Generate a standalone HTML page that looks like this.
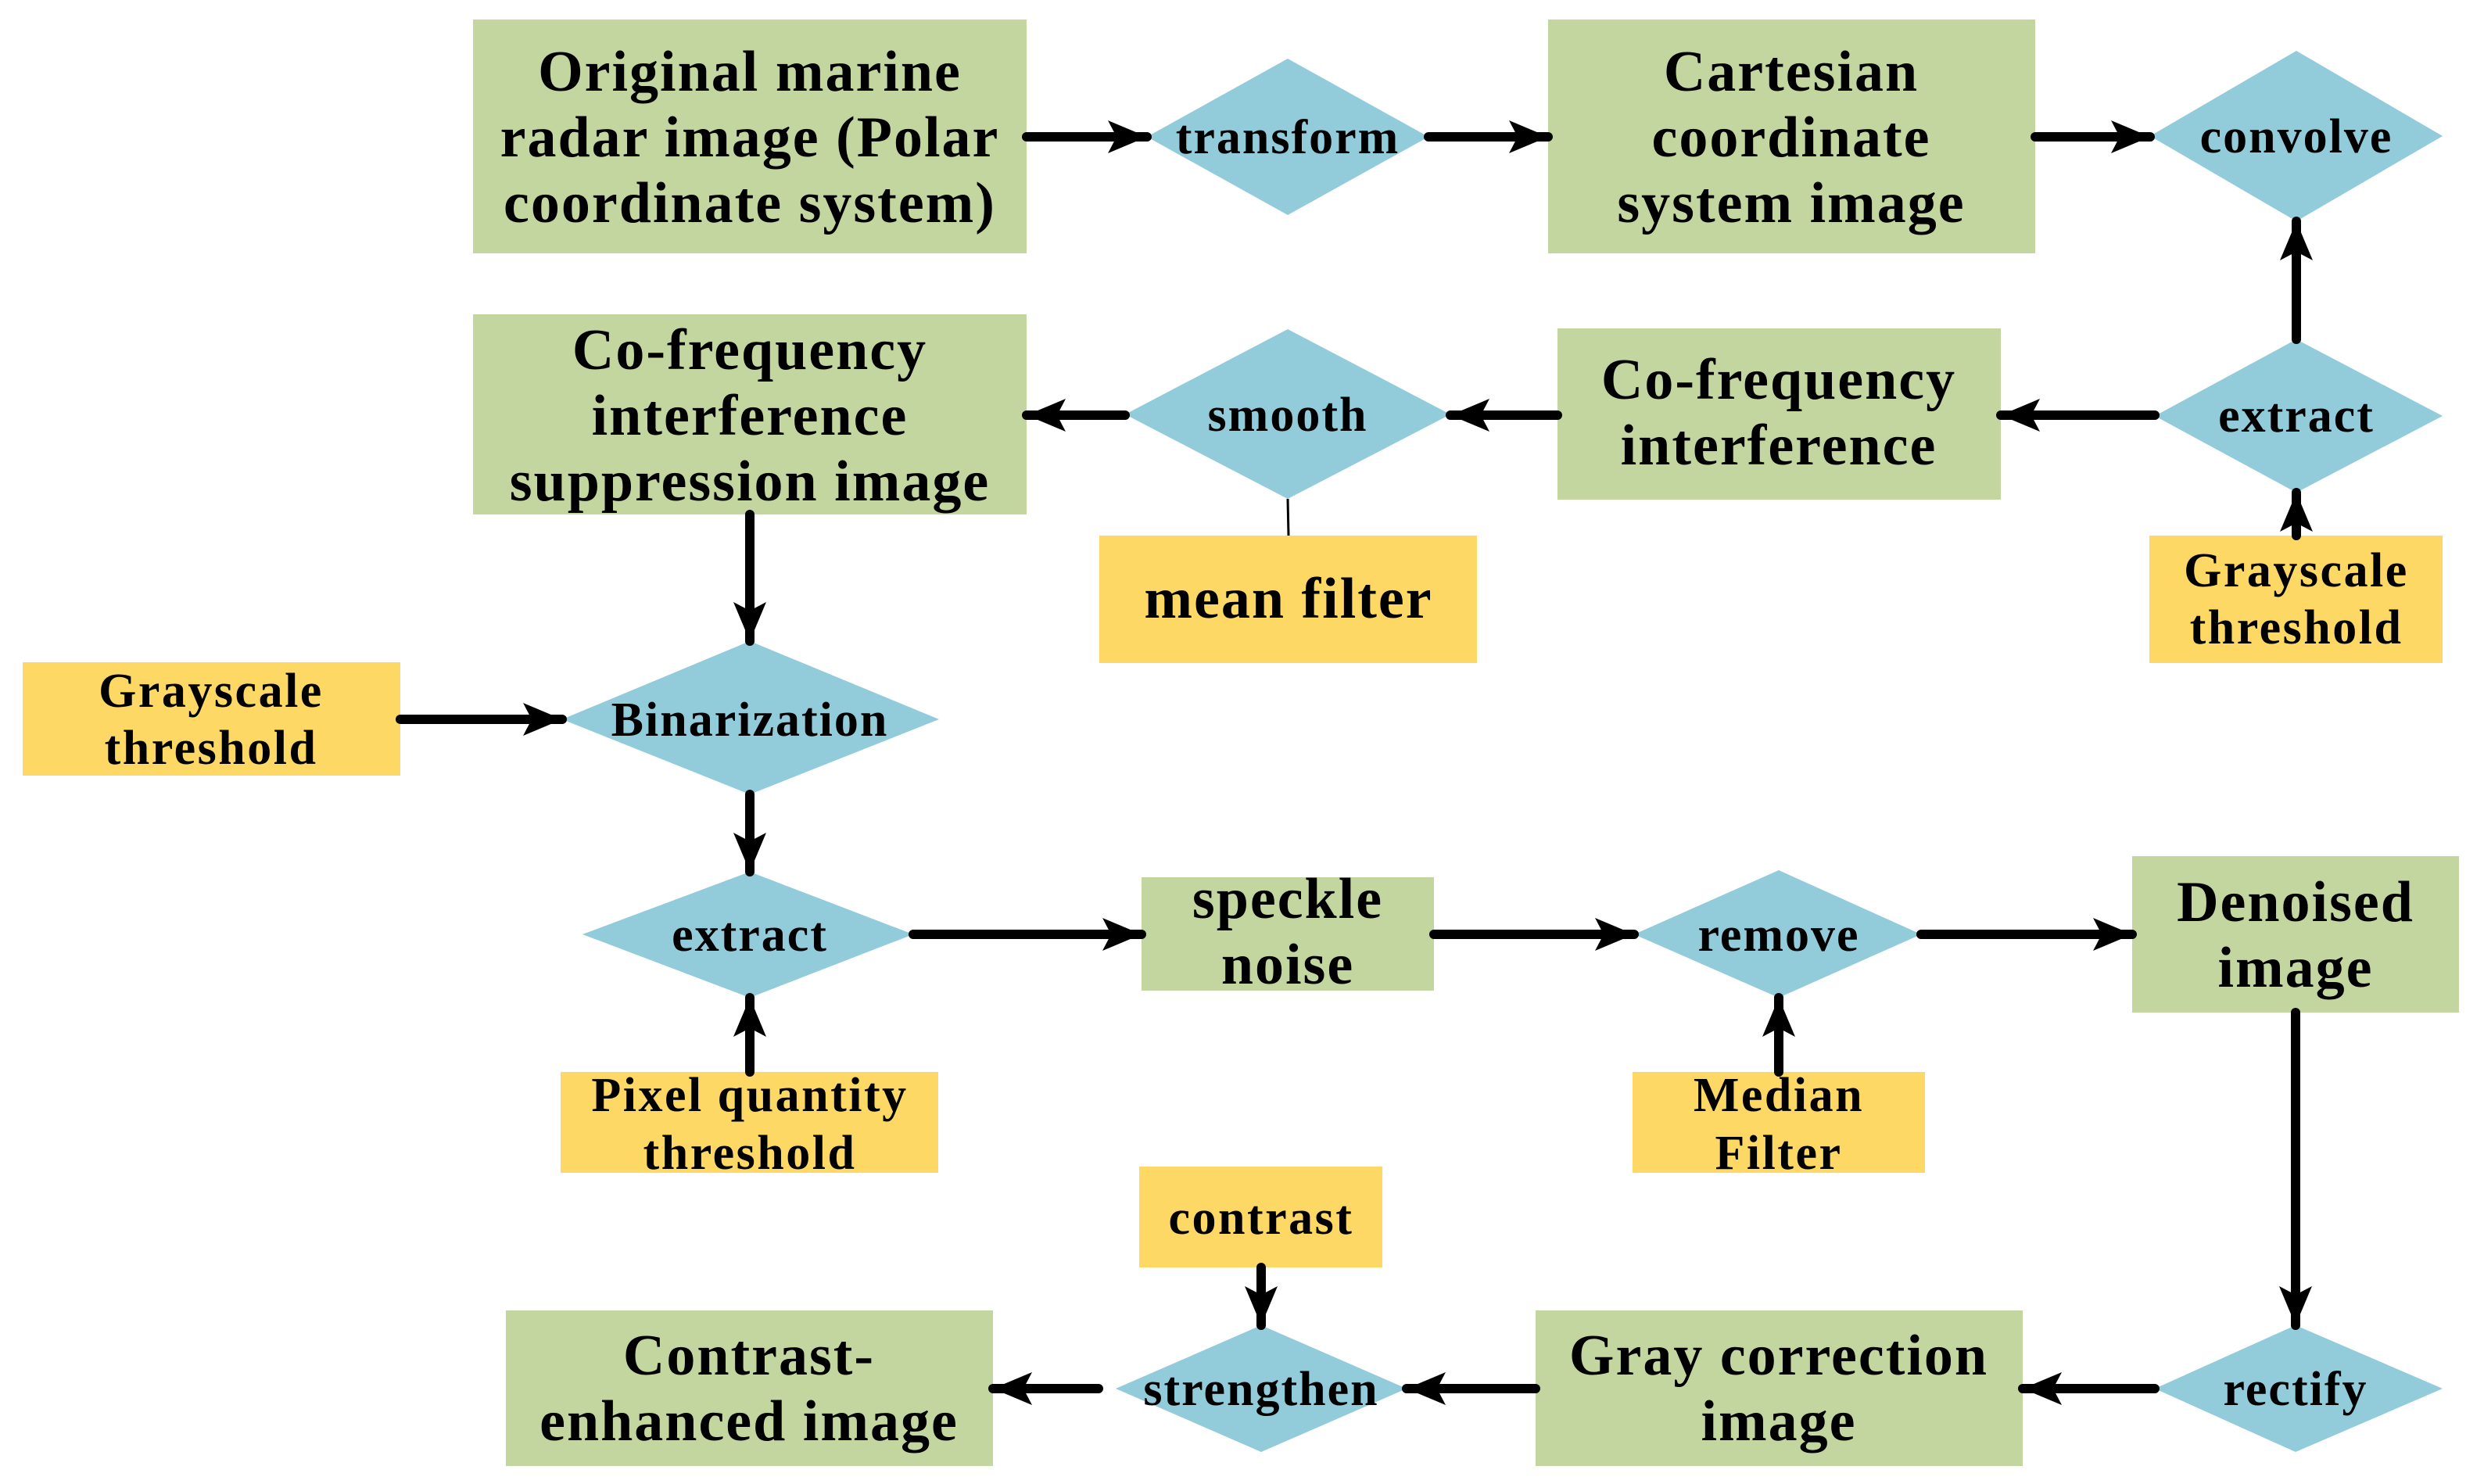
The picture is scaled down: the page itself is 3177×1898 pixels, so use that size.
<!DOCTYPE html>
<html><head><meta charset="utf-8"><style>
html,body{margin:0;padding:0;background:#fff;}
svg{display:block;}
text{font-family:"Liberation Serif",serif;font-weight:bold;fill:#000;text-anchor:middle;}
.m{font-size:74px;letter-spacing:2px;}
.d{font-size:62px;letter-spacing:2px;}
.y{font-size:62px;letter-spacing:2.5px;}
</style></head><body>
<svg width="3177" height="1898" viewBox="0 0 3177 1898" xmlns="http://www.w3.org/2000/svg">
<defs>
<marker id="a" markerUnits="userSpaceOnUse" markerWidth="54" markerHeight="46" refX="50" refY="21" orient="auto">
<path d="M0,0 L50,21 L0,42 L11,21 z" fill="#000"/>
</marker>
</defs>
<g fill="#c4d69f">
<rect x="605" y="25" width="708" height="299"/>
<rect x="1980" y="25" width="623" height="299"/>
<rect x="1992" y="420" width="567" height="219"/>
<rect x="605" y="402" width="708" height="256"/>
<rect x="1460" y="1122" width="374" height="145"/>
<rect x="2727" y="1095" width="418" height="200"/>
<rect x="1964" y="1676" width="623" height="199"/>
<rect x="647" y="1676" width="623" height="199"/>
</g>
<g fill="#fdd865">
<rect x="2749" y="685" width="375" height="163"/>
<rect x="1406" y="685" width="483" height="163"/>
<rect x="29" y="847" width="483" height="145"/>
<rect x="717" y="1371" width="483" height="129"/>
<rect x="2088" y="1371" width="374" height="129"/>
<rect x="1457" y="1492" width="311" height="129"/>
</g>
<g fill="#92cbd9">
<polygon points="1467,175 1647,75 1827,175 1647,275"/>
<polygon points="2750,174 2937,65 3124,174 2937,283"/>
<polygon points="2756,532 2937,434 3124,532 2937,630"/>
<polygon points="1439,530 1647,421 1855,530 1647,638"/>
<polygon points="719,920 959,820 1201,920 959,1016"/>
<polygon points="745,1195 959,1115 1168,1195 959,1276"/>
<polygon points="2090,1195 2275,1113 2457,1195 2275,1276"/>
<polygon points="2756,1776 2936,1695 3124,1776 2936,1857"/>
<polygon points="1427,1776 1613,1695 1799,1776 1613,1857"/>
</g>
<g stroke="#000" stroke-width="12" stroke-linecap="round" fill="none" marker-end="url(#a)">
<line x1="1313" y1="175" x2="1467" y2="175"/>
<line x1="1827" y1="175" x2="1980" y2="175"/>
<line x1="2603" y1="175" x2="2750" y2="175"/>
<line x1="2937" y1="434" x2="2937" y2="283"/>
<line x1="2937" y1="685" x2="2937" y2="630"/>
<line x1="2756" y1="531" x2="2559" y2="531"/>
<line x1="1992" y1="531" x2="1855" y2="531"/>
<line x1="1439" y1="531" x2="1313" y2="531"/>
<line x1="959" y1="658" x2="959" y2="820"/>
<line x1="512" y1="920" x2="719" y2="920"/>
<line x1="959" y1="1016" x2="959" y2="1115"/>
<line x1="959" y1="1371" x2="959" y2="1276"/>
<line x1="1168" y1="1195" x2="1460" y2="1195"/>
<line x1="1834" y1="1195" x2="2090" y2="1195"/>
<line x1="2275" y1="1371" x2="2275" y2="1276"/>
<line x1="2457" y1="1195" x2="2727" y2="1195"/>
<line x1="2936" y1="1295" x2="2936" y2="1695"/>
<line x1="2756" y1="1776" x2="2587" y2="1776"/>
<line x1="1964" y1="1776" x2="1799" y2="1776"/>
<line x1="1613" y1="1621" x2="1613" y2="1695"/>
<line x1="1405" y1="1776" x2="1270" y2="1776"/>
</g>
<line x1="1647" y1="638" x2="1648" y2="685" stroke="#000" stroke-width="3"/>

<text class="m" x="959" y="116">Original marine</text>
<text class="m" x="959" y="200">radar image (Polar</text>
<text class="m" x="959" y="284">coordinate system)</text>
<text class="m" x="2291" y="116">Cartesian</text>
<text class="m" x="2291" y="200">coordinate</text>
<text class="m" x="2291" y="284">system image</text>
<text class="m" x="2275" y="510">Co-frequency</text>
<text class="m" x="2275" y="594">interference</text>
<text class="m" x="959" y="472">Co-frequency</text>
<text class="m" x="959" y="556">interference</text>
<text class="m" x="959" y="640">suppression image</text>
<text class="m" x="1648" y="790">mean filter</text>
<text class="m" x="1647" y="1174">speckle</text>
<text class="m" x="1647" y="1258">noise</text>
<text class="m" x="2936" y="1178">Denoised</text>
<text class="m" x="2936" y="1262">image</text>
<text class="m" x="2275" y="1758">Gray correction</text>
<text class="m" x="2275" y="1842">image</text>
<text class="m" x="958" y="1758">Contrast-</text>
<text class="m" x="958" y="1842">enhanced image</text>

<text class="d" x="1647" y="196">transform</text>
<text class="d" x="2937" y="195">convolve</text>
<text class="d" x="2937" y="552">extract</text>
<text class="d" x="1647" y="551">smooth</text>
<text class="d" x="959" y="941">Binarization</text>
<text class="d" x="959" y="1216">extract</text>
<text class="d" x="2275" y="1216">remove</text>
<text class="d" x="2936" y="1797">rectify</text>
<text class="d" x="1613" y="1797">strengthen</text>

<text class="y" x="2937" y="750">Grayscale</text>
<text class="y" x="2937" y="823">threshold</text>
<text class="y" x="270" y="904">Grayscale</text>
<text class="y" x="270" y="977">threshold</text>
<text class="y" x="959" y="1421">Pixel quantity</text>
<text class="y" x="959" y="1495">threshold</text>
<text class="y" x="2275" y="1421">Median</text>
<text class="y" x="2275" y="1495">Filter</text>
<text class="y" x="1613" y="1578">contrast</text>
</svg>
</body></html>
